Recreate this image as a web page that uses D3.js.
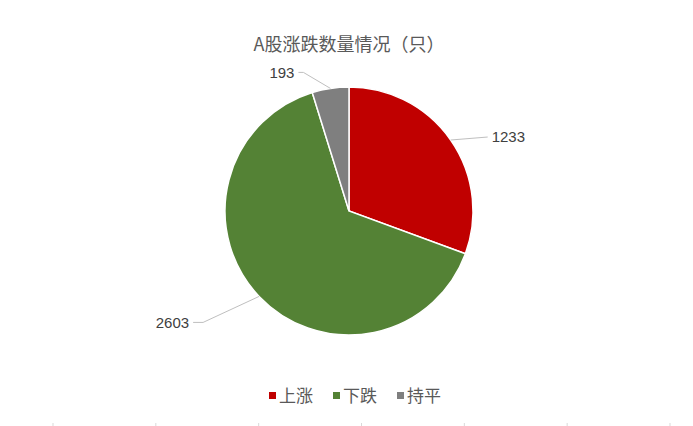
<!DOCTYPE html>
<html>
<head>
<meta charset="utf-8">
<script src="https://cdn.jsdelivr.net/npm/d3@7"></script>
<style>
  body { margin: 0; background: #fff; }
  svg { display: block; font-family: "Noto Sans CJK SC", "Noto Sans", sans-serif; }
</style>
</head>
<body>
<div id="chart"></div>
<script>
// data
const categories = ["上涨", "下跌", "持平"];
const counts = [1233, 2603, 193];
const colors = ["#C00000", "#548235", "#7F7F7F"];
const title = "A股涨跌数量情况（只）";

// leader line shape per slice: [dx, dy, horizontal tail]
const leaders = [[37, -3, 0], [-56, 26, -10], [-27, -16, -5]];

const width = 693, height = 426;
const cx = 349, cy = 211, radius = 124;

const svg = d3.select("#chart").append("svg")
  .attr("width", width)
  .attr("height", height);

svg.append("text")
  .attr("x", cx)
  .attr("y", 51)
  .attr("text-anchor", "middle")
  .attr("fill", "#595959")
  .attr("font-size", 18)
  .text(title);

const pie = d3.pie().sort(null).value((d) => d.value);
const arc = d3.arc().innerRadius(0).outerRadius(radius);

const pieData = pie(categories.map((c, i) => ({ name: c, value: counts[i], color: colors[i] })));

const g = svg.append("g").attr("transform", `translate(${cx},${cy})`);

g.selectAll("path.slice")
  .data(pieData)
  .enter()
  .append("path")
  .attr("class", "slice")
  .attr("d", arc)
  .attr("fill", (d) => d.data.color)
  .attr("stroke", "#fff")
  .attr("stroke-width", 1.5);

// data labels with leader lines
pieData.forEach((d, i) => {
  const mid = (d.startAngle + d.endAngle) / 2;
  const x0 = Math.sin(mid) * radius;
  const y0 = -Math.cos(mid) * radius;
  const [dx, dy, tail] = leaders[i];
  const x1 = x0 + dx, y1 = y0 + dy, x2 = x1 + tail;
  g.append("polyline")
    .attr("points", [[x0, y0], [x1, y1], [x2, y1]].map((p) => p.join(",")).join(" "))
    .attr("fill", "none")
    .attr("stroke", "#BFBFBF")
    .attr("stroke-width", 1);
  const right = dx > 0;
  g.append("text")
    .attr("x", x2 + (right ? 4 : -4))
    .attr("y", y1)
    .attr("dy", "0.36em")
    .attr("text-anchor", right ? "start" : "end")
    .attr("fill", "#404040")
    .attr("font-size", 15)
    .attr("font-family", "Liberation Sans, Arial, sans-serif")
    .text(d.data.value);
});

// legend
const legendX = d3.scalePoint().domain(categories).range([269, 397]);
const legend = svg.append("g");
const items = legend.selectAll("g")
  .data(categories)
  .enter()
  .append("g")
  .attr("transform", (d) => `translate(${legendX(d)},396)`);
items.append("rect")
  .attr("x", 0).attr("y", -4)
  .attr("width", 7).attr("height", 7)
  .attr("fill", (d, i) => colors[i]);
items.append("text")
  .attr("x", 10)
  .attr("y", 0)
  .attr("dy", "0.36em")
  .attr("fill", "#595959")
  .attr("font-size", 17)
  .text((d) => d);

// faint marks along the bottom edge
const marks = d3.range(7);
const markX = d3.scaleLinear().domain([0, 6]).range([53, 670]);
svg.selectAll("line.mark")
  .data(marks)
  .enter()
  .append("line")
  .attr("x1", (d) => markX(d)).attr("x2", (d) => markX(d))
  .attr("y1", 423).attr("y2", 426)
  .attr("stroke", "#D9D9D9");
</script>
</body>
</html>
